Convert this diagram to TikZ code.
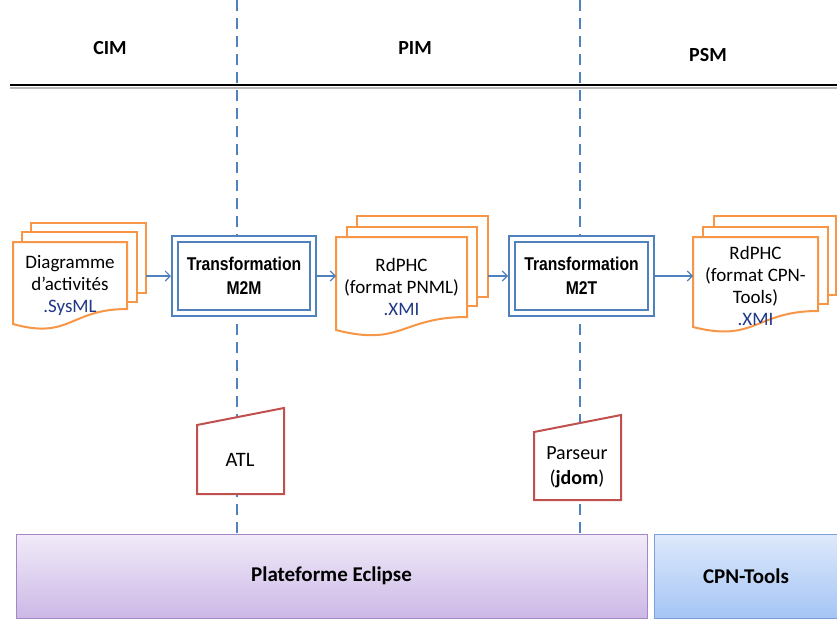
\documentclass[tikz,border=0pt]{standalone}
\usepackage{fontspec}
\setmainfont{Carlito}
\newfontfamily\narrowfont[FakeStretch=0.85]{Liberation Sans}
\definecolor{DocOrange}{RGB}{247,150,70}
\definecolor{BoxBlue}{RGB}{79,129,189}
\definecolor{ToolRed}{RGB}{192,80,77}
\definecolor{ExtNavy}{RGB}{32,56,136}
\definecolor{EclipseTop}{RGB}{241,235,249}
\definecolor{EclipseBot}{RGB}{204,184,230}
\definecolor{EclipseLine}{RGB}{165,135,195}
\definecolor{CpnTop}{RGB}{222,233,251}
\definecolor{CpnBot}{RGB}{165,197,245}
\definecolor{CpnLine}{RGB}{125,160,215}
\usetikzlibrary{arrows.meta}

\begin{document}
\begin{tikzpicture}[x=1pt,y=-1pt]
				\tikzstyle{every node}=[font=\fontsize{19}{22}\selectfont, align=center, inner sep=0pt, outer sep=0pt];
				\tikzstyle{sheet}=[draw=DocOrange, line width=2pt, fill=white];
				\tikzstyle{trans}=[draw=BoxBlue, line width=2pt, double=white, double distance=4pt, fill=white, outer sep=4pt, font=\narrowfont\bfseries\fontsize{18.5}{24}\selectfont];
				\tikzstyle{tool}=[draw=ToolRed, line width=2pt, fill=white];
				\tikzstyle{flow}=[draw=BoxBlue, line width=1.1pt, -{Straight Barb[length=5pt,width=10pt]}];
				\tikzstyle{phase}=[draw=BoxBlue, line width=2pt, dash pattern=on 11pt off 7pt];
				\tikzstyle{head}=[font=\bfseries\fontsize{20}{22}\selectfont];
				\tikzstyle{platform}=[line width=1pt, minimum height=84pt, font=\bfseries\fontsize{21}{22}\selectfont];
				\useasboundingbox (0,0) rectangle (837,621);
				\clip (0,0) rectangle (837,621);
				\node [head] (cim) at (110,48) {CIM};
				\node [head] (pim) at (415,48) {PIM};
				\node [head] (psm) at (708,55) {PSM};
				\draw [gray!55, line width=1.5pt] (10,87.8) -- (837,87.8);
				\draw [line width=2.4pt] (10,85) -- (837,85);
				\draw [phase] (237,0) -- (237,534);
				\draw [phase] (580,0) -- (580,534);
				\node [sheet, minimum width=115pt, minimum height=70pt] (d13) at (88.5,258) {};
				\node [sheet, minimum width=115pt, minimum height=70pt] (d12) at (79.5,267) {};
				\draw [sheet] (13,324) -- (13,242) -- (127,242) -- (127,309) .. controls (70,309) and (70,340) .. (13,324) -- cycle;
				\node [minimum width=114pt] (d11) at (70,285) {Diagramme\\d’activités\\\textcolor{ExtNavy}{.SysML}};
				\node [trans, minimum width=138pt, minimum height=74pt] (t1) at (244,276) {Transformation\\M2M};
				\draw [flow] (d13.east |- t1.west) -- (t1.west);
				\node [sheet, minimum width=131pt, minimum height=81pt] (d23) at (422.5,256.5) {};
				\node [sheet, minimum width=130pt, minimum height=79pt] (d22) at (412,266.5) {};
				\draw [sheet] (336,330) -- (336,237) -- (467,237) -- (467,317) .. controls (401.5,317) and (401.5,347) .. (336,330) -- cycle;
				\node [minimum width=131pt] (d21) at (401.5,287) {RdPHC\\(format PNML)\\\textcolor{ExtNavy}{.XMI}};
				\draw [flow] (t1.east) -- (t1.east -| d21.west);
				\node [trans, minimum width=139pt, minimum height=74pt] (t2) at (581.5,276) {Transformation\\M2T};
				\draw [flow] (d23.east |- t2.west) -- (t2.west);
				\node [sheet, minimum width=122pt, minimum height=79pt] (d33) at (775,255.5) {};
				\node [sheet, minimum width=125pt, minimum height=77pt] (d32) at (765.5,265.5) {};
				\draw [sheet] (693,327) -- (693,237) -- (818,237) -- (818,311) .. controls (755.5,311) and (755.5,343) .. (693,327) -- cycle;
				\node [minimum width=125pt] (d31) at (755.5,286) {RdPHC\\(format CPN-\\Tools)\\\textcolor{ExtNavy}{.XMI}};
				\draw [flow] (t2.east) -- (t2.east -| d31.west);
				\draw [tool] (197,425) -- (284,408) -- (284,494) -- (197,494) -- cycle;
				\node [font=\fontsize{20.5}{25}\selectfont] (atl) at (240,460) {ATL};
				\draw [tool] (534,432) -- (621,415) -- (621,500) -- (534,500) -- cycle;
				\node [font=\fontsize{20}{25}\selectfont] (jdom) at (577,467) {Parseur\\(\textbf{jdom})};
				\node [platform, draw=EclipseLine, top color=EclipseTop, bottom color=EclipseBot, minimum width=631pt] (eclipse) at (331.5,576) {Plateforme Eclipse};
				\node [platform, draw=CpnLine, top color=CpnTop, bottom color=CpnBot, minimum width=184pt] (cpn) at (746,576) {CPN-Tools};
			\end{tikzpicture}
\end{document}
